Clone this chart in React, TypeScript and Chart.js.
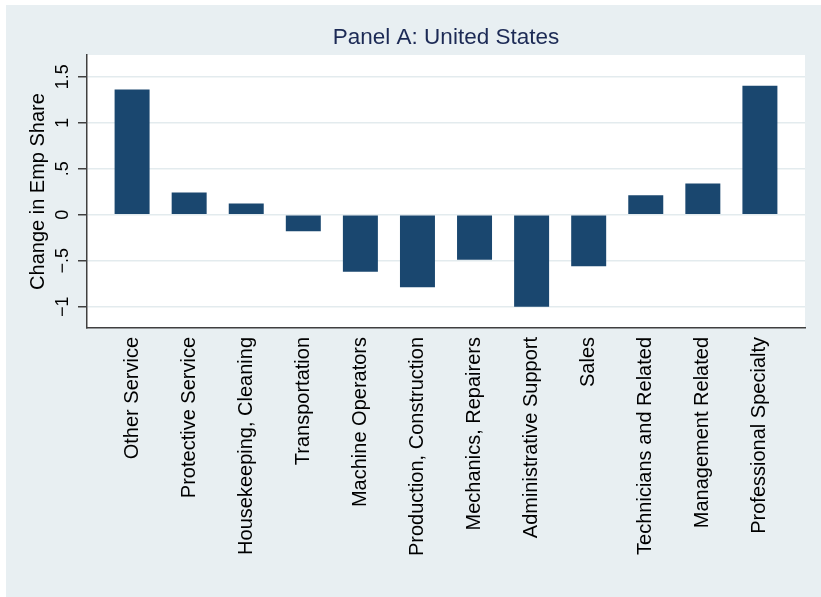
import React, { useEffect, useRef } from "react";
import { Chart, registerables } from "chart.js";

Chart.register(...registerables);

const categories = [
  "Other Service",
  "Protective Service",
  "Housekeeping, Cleaning",
  "Transportation",
  "Machine Operators",
  "Production, Construction",
  "Mechanics, Repairers",
  "Administrative Support",
  "Sales",
  "Technicians and Related",
  "Management Related",
  "Professional Specialty",
];

const changeInEmpShare = [1.36, 0.24, 0.12, -0.18, -0.62, -0.79, -0.49, -1.0, -0.56, 0.21, 0.34, 1.4];

const yTickValues = [-1, -0.5, 0, 0.5, 1, 1.5];
const yTickLabels = ["\u22121", "\u2212.5", "0", ".5", "1", "1.5"];

const FONT = "'Liberation Sans', Arial, Helvetica, sans-serif";

const bgPlugin = {
  id: "stataBg",
  beforeDraw(chart: any) {
    const { ctx, width, height, chartArea } = chart;
    ctx.save();
    ctx.fillStyle = "#ffffff";
    ctx.fillRect(0, 0, width, height);
    ctx.fillStyle = "#e8eff2";
    ctx.fillRect(6, 5, width - 6, height - 5);
    ctx.fillStyle = "#ffffff";
    ctx.fillRect(chartArea.left, chartArea.top, chartArea.right - chartArea.left, chartArea.bottom - chartArea.top);
    ctx.restore();
  },
};

export default function App() {
  const ref = useRef<HTMLCanvasElement | null>(null);

  useEffect(() => {
    document.body.style.margin = "0";
    const canvas = ref.current;
    if (!canvas) return;
    const chart = new Chart(canvas, {
      type: "bar",
      data: {
        datasets: [
          {
            data: categories.map((_, i) => ({ x: i, y: changeInEmpShare[i] })),
            backgroundColor: "#1a476f",
            borderWidth: 0,
            barPercentage: 0.613,
            categoryPercentage: 1,
          },
        ],
      },
      options: {
        animation: false,
        responsive: false,
        maintainAspectRatio: false,
        devicePixelRatio: 1,
        layout: { padding: { left: 6, top: 5, right: 16, bottom: 0 } },
        plugins: {
          legend: { display: false },
          tooltip: { enabled: false },
          title: {
            display: true,
            fullSize: false,
            text: "Panel A: United States",
            color: "#1c2a55",
            font: { family: FONT, size: 22.5, weight: "normal", lineHeight: 1.2 },
            padding: { top: 19.3, bottom: 3.7 },
          },
        },
        scales: {
          x: {
            type: "linear",
            offset: false,
            min: -0.79,
            max: 11.79,
            grid: { display: false, drawTicks: false, offset: false },
            border: { display: true, color: "#404040", width: 1.5 },
            afterBuildTicks: (scale: any) => {
              scale.ticks = categories.map((_, i) => ({ value: i }));
            },
            afterFit: (scale: any) => {
              scale.height = 269;
            },
            ticks: {
              autoSkip: false,
              minRotation: 90,
              maxRotation: 90,
              padding: 9,
              color: "#000000",
              font: { family: FONT, size: 20 },
              callback: (v: any) => categories[Math.round(Number(v))] ?? "",
            },
          },
          y: {
            type: "linear",
            min: -1.232,
            max: 1.7355,
            afterBuildTicks: (scale: any) => {
              scale.ticks = yTickValues.map((v) => ({ value: v }));
            },
            afterFit: (scale: any) => {
              scale.width = 81;
            },
            grid: {
              color: "#e3ebee",
              lineWidth: 1.5,
              tickColor: "#404040",
              tickLength: 9,
              tickWidth: 1.5,
            },
            border: { display: true, color: "#404040", width: 1.5 },
            ticks: {
              minRotation: 90,
              maxRotation: 90,
              crossAlign: "center",
              padding: 2,
              color: "#000000",
              font: { family: FONT, size: 18 },
              callback: (v: any) => {
                const idx = yTickValues.findIndex((t) => Math.abs(t - Number(v)) < 1e-6);
                return idx >= 0 ? yTickLabels[idx] : "";
              },
            },
            title: {
              display: true,
              text: "Change in Emp Share",
              color: "#000000",
              font: { family: FONT, size: 20, lineHeight: 1.2 },
              padding: { top: 20, bottom: 0 },
            },
          },
        },
      } as any,
      plugins: [bgPlugin],
    });
    return () => chart.destroy();
  }, []);

  return (
    <div style={{ width: 821, height: 597 }}>
      <canvas ref={ref} width={821} height={597} style={{ display: "block", width: 821, height: 597 }} />
    </div>
  );
}
